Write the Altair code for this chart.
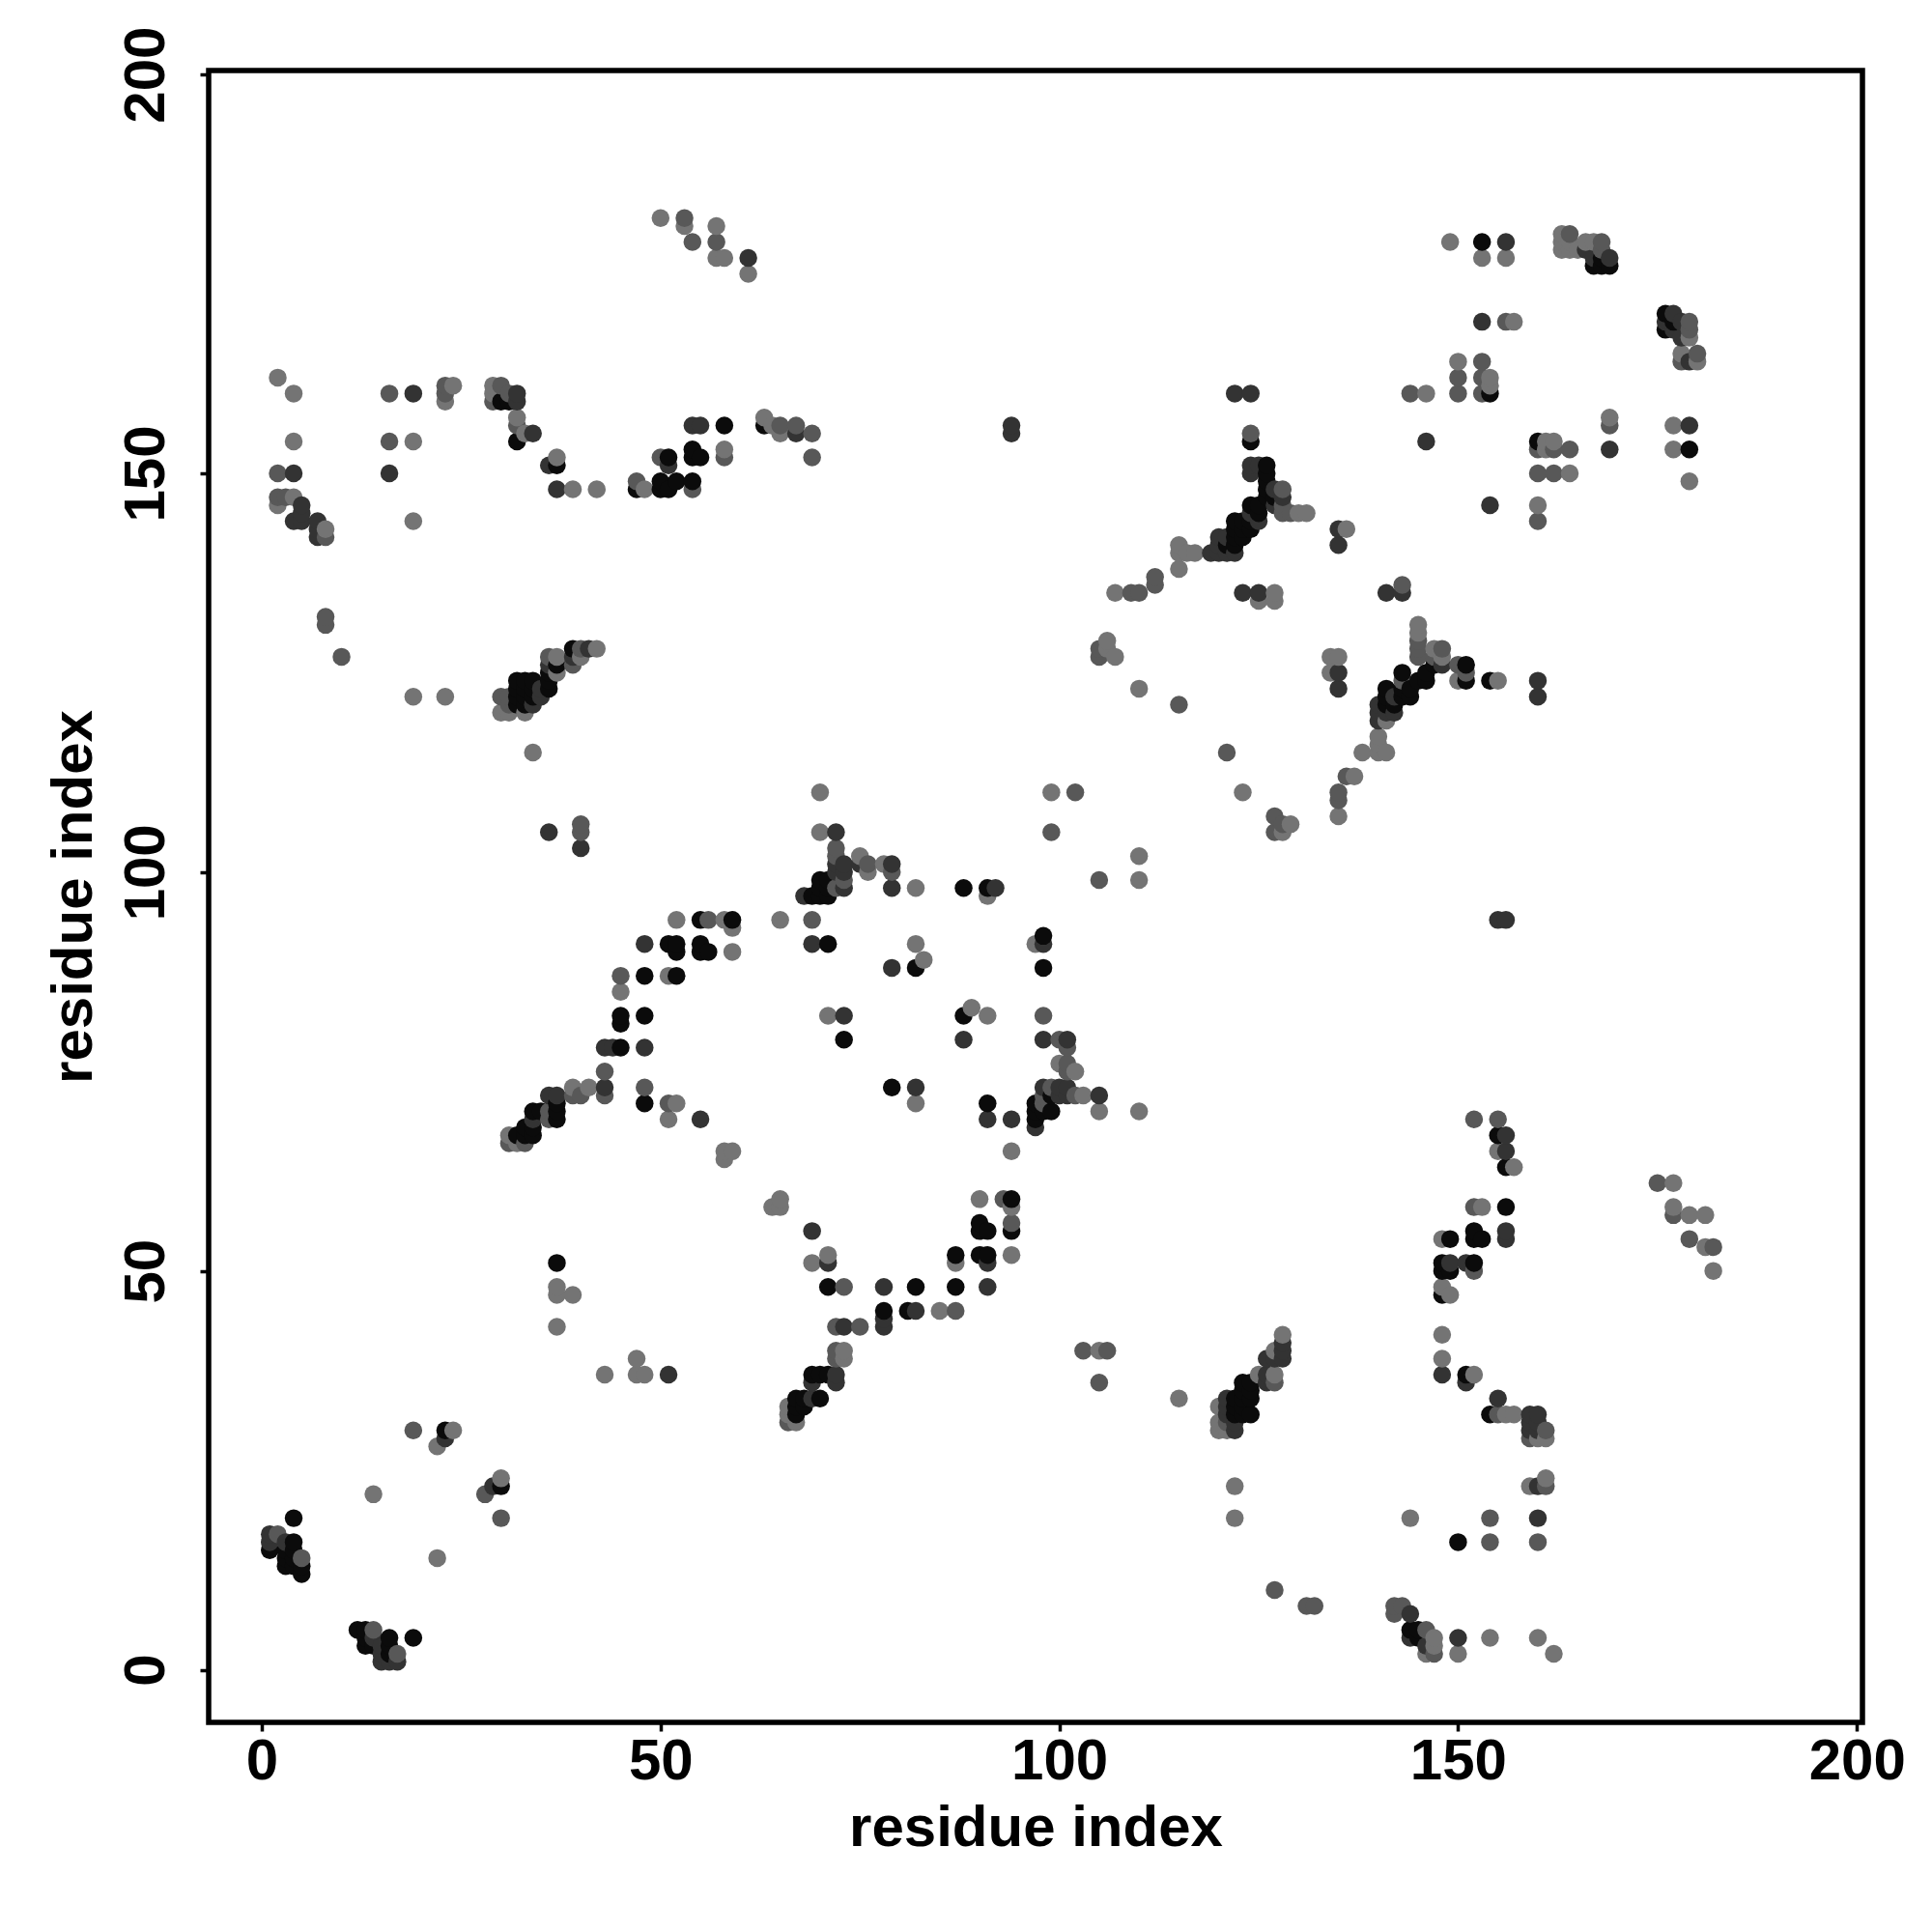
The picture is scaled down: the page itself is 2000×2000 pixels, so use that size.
import altair as alt
import pandas as pd

TICKS = [0, 50, 100, 150, 200]
GRAYS = {"k": "#0b0b0b", "d": "#333333", "m": "#585858", "l": "#747474"}

# contacts (residue i, residue j) grouped by grey level
black = [(23,30),(30,23),(4,19),(1,15),(4,16),(3,15),(4,15),(3,14),(4,14),(3,13),(4,13),(5,13),(5,12),(12,5),(13,5),(13,4),(13,3),
 (16,4),(19,4),(14,3),(16,3),(16,2),(150,16),(144,5),(145,5),(145,4),(155,67),(156,63),(156,58),(152,55),(152,54),(153,54),(149,54),
 (148,51),(148,50),(149,50),(152,51),(148,47),(151,37),(154,32),(123,36),(124,36),(123,35),(124,35),(122,34),(123,34),(124,34),(122,33),(123,33),
 (122,32),(123,32),(124,32),(94,59),(94,55),(90,56),(90,55),(91,55),(87,52),(90,52),(91,52),(87,48),(82,48),(78,45),(81,45),(71,48),
 (69,37),(70,37),(71,37),(67,34),(68,34),(70,34),(68,33),(67,33),(67,32),(37,51),(48,71),(45,78),(45,82),(45,81),(48,82),(48,87),(52,87),
 (51,91),(52,91),(52,90),(55,91),(55,90),(56,90),(55,94),(59,94),(71,91),(73,79),(37,71),(37,70),(37,69),(34,70),(35,70),(33,68),(34,68),(34,67),(32,67),(33,67),
 (69,97),(70,97),(71,97),(70,99),(71,99),(70,98),(71,98),(88,98),(91,98),(82,88),(98,92),(98,88),(88,82),(79,73),(99,72),(97,71),(99,70),(98,70),(97,70),(97,69),(91,71),
 (141,121),(142,121),(141,123),(141,122),(143,125),(143,123),(144,122),(145,124),(146,124),(146,125),(147,126),(151,126),(151,124),(154,124),(144,123),(143,122),
 (153,179),(154,160),(160,154),(179,153),(168,177),(167,176),(168,176),(169,176),(176,170),(177,169),(176,168),
 (30,159),(31,159),(32,154),(37,151),(47,148),(39,128),(37,126),(36,125),(36,124),(36,123),(32,124),(34,124),(33,124),(32,123),(34,123),(33,123),(34,122),(33,122),(32,122),(32,121),(33,121),
 (58,156),(63,156),(51,152),(54,153),(54,152),(55,152),(50,149),(47,148),(50,148),(51,148),(54,149),(52,149),
 (124,154),(126,151),(126,150),(124,146),(122,144),(123,144),(125,145),(125,146),(122,143),(124,143),(122,142),(123,142),(122,141),(121,141),(123,143),(124,144),(126,147),(126,148),(126,149),(127,147)]
dark = [(23,29),(29,23),(3,16),(1,17),(1,16),(15,3),(14,4),(15,1),(16,1),(17,1),(15,2),(160,19),(160,23),(144,7),(144,4),(146,3),(150,4),
 (156,67),(156,65),(156,55),(156,54),(149,51),(151,51),(148,37),(151,36),(155,34),(159,32),(160,32),(159,31),(160,31),(159,30),(160,30),
 (128,41),(128,40),(128,39),(127,39),(126,39),(126,37),(126,36),(121,34),(121,33),(121,32),(122,31),(122,30),(69,55),(71,51),(91,51),(91,48),(78,48),(78,44),(78,43),(82,45),(73,43),
 (72,37),(69,36),(72,36),(69,34),(48,91),(69,91),(73,82),(43,73),(48,78),(43,78),(44,78),(55,69),(36,72),(37,72),(34,69),(68,97),
 (72,105),(72,101),(73,101),(73,100),(72,100),(73,98),(75,101),(79,101),(79,98),(92,98),(79,88),(98,91),(88,79),(98,79),(101,79),(82,73),(98,73),(100,73),(101,73),(100,72),(101,72),(105,72),(97,68),(91,69),(94,69),
 (123,135),(125,135),(141,135),(143,135),(135,125),(135,123),(140,121),(140,120),(140,119),(142,120),(141,120),(142,122),(148,126),(160,124),(160,122),(135,143),(135,141),
 (156,179),(153,169),(146,154),(154,146),(169,153),(179,156),(166,178),(167,177),(169,177),(177,170),(176,169),(178,169),(177,168),(178,167),(179,164),
 (19,160),(32,160),(32,159),(34,155),(4,150),(16,150),(36,151),(37,148),(5,146),(4,144),(5,145),(5,144),(7,144),(7,143),(7,142),(41,128),(39,127),(36,126),(35,123),(35,122),(34,121),
 (54,156),(55,156),(61,177),(67,155),(51,151),(94,156),(94,155),(155,94),(156,94),(36,105),(40,103),(122,160),(124,160),
 (124,151),(125,151),(124,150),(127,148),(128,147),(124,145),(125,144),(121,142),(120,142),(120,141),(119,140),(120,140),(121,140),(122,140)]
mid = [(19,30),(28,22),(30,19),(2,17),(5,14),(14,5),(14,4),(17,2),(154,19),(154,16),(160,16),(161,23),(127,10),(131,8),(132,8),(142,8),(143,8),(142,7),(146,5),(147,2),
 (152,69),(155,69),(152,58),(152,50),(155,32),(161,30),(159,29),(127,36),(121,31),(93,59),(94,56),(87,45),(73,48),(72,43),(75,43),(72,40),(72,39),(66,31),(103,40),(106,40),(105,36),
 (69,94),(56,94),(48,73),(51,71),(43,72),(43,75),(45,87),(36,69),(36,70),(31,66),(33,66),(39,72),(40,72),
 (99,105),(72,103),(72,102),(73,99),(72,98),(76,101),(79,100),(105,99),(98,82),(101,78),(101,76),(101,75),(99,73),(98,72),(102,72),(98,71),(100,79),
 (109,135),(110,135),(112,136),(112,137),(143,136),(105,128),(105,127),(115,121),(121,115),(102,110),(127,107),(127,105),(128,106),(135,109),(135,110),(136,112),
 (143,124),(145,129),(145,128),(145,127),(148,128),(147,127),(150,126),(151,125),(156,169),(150,162),(150,160),(153,164),(153,162),(153,160),(144,160),(160,153),(162,153),(164,153),(160,150),(162,150),(160,144),(169,156),
 (164,180),(168,179),(168,178),(179,169),(179,168),(178,164),(180,165),(175,61),(179,54),(182,53),(177,57),
 (16,160),(23,160),(23,161),(30,161),(29,159),(31,160),(32,156),(16,154),(2,150),(2,147),(3,147),(8,142),(8,132),(8,131),(10,127),(47,149),(50,152),(40,128),(39,126),(36,127),(30,122),(31,122),(31,121),
 (53,182),(54,179),(57,179),(65,156),(67,156),(69,155),(69,152),(58,152),(54,148),(40,106),(40,105),(124,155),(128,148),(128,146),(129,145),(128,145)]
light = [(43,37),(37,43),(24,30),(22,28),(14,22),(30,24),(22,14),(122,23),(122,19),(144,19),(159,23),(161,24),(147,4),(147,3),(146,2),(150,2),(154,4),(160,4),(162,2),
 (155,65),(157,63),(153,58),(148,54),(148,48),(149,47),(148,42),(148,39),(152,37),(156,32),(157,32),(160,29),(161,29),
 (128,42),(127,40),(127,37),(125,37),(120,33),(120,31),(120,30),(121,30),(115,34),(94,65),(90,59),(94,58),(94,52),(87,51),(85,45),(71,52),(69,51),(73,40),(73,39),(66,33),(66,32),(67,31),(65,59),(64,58),(65,58),(105,40),
 (58,65),(59,65),(58,64),(51,69),(52,71),(41,73),(39,73),(45,85),(51,87),(59,90),(52,94),(58,94),(59,93),(65,94),(71,82),(31,67),(32,66),
 (70,110),(99,110),(102,110),(70,105),(75,102),(76,100),(78,101),(82,98),(91,97),(110,102),(110,99),(82,91),(83,89),(97,91),(89,83),(91,82),(100,76),(102,75),(103,72),(105,70),(110,70),(82,71),(94,65),
 (107,135),(125,134),(127,135),(127,134),(106,129),(106,128),(107,127),(110,123),(123,110),(128,105),(129,106),(135,107),(137,112),(138,115),(140,115),(141,115),(140,116),(140,117),
 (134,127),(135,127),(134,125),(141,119),(145,131),(145,130),(147,128),(148,127),(150,124),(155,124),(136,143),
 (149,179),(153,177),(156,177),(157,169),(150,164),(154,162),(154,161),(146,160),(161,154),(162,154),(161,153),(164,150),(160,146),(169,157),(177,156),(177,153),(179,149),
 (163,180),(163,179),(164,179),(163,178),(164,178),(165,178),(166,179),(167,179),(179,167),(178,165),(180,164),
 (177,61),(177,58),(179,57),(181,57),(181,53),(182,50),
 (2,162),(4,160),(23,159),(24,161),(29,161),(29,160),(32,157),(33,155),(4,154),(19,154),(37,152),(39,148),(42,148),(48,148),(4,147),(2,146),(8,143),(19,144),(19,122),(23,122),(42,128),(40,127),(37,127),(37,125),(30,120),(31,120),(33,120),(34,115),
 (50,182),(53,181),(57,181),(57,177),(58,177),(61,175),(63,157),(64,156),(65,155),(50,152),(58,153),(47,39),(37,48),(37,47),(39,47),(47,37),(48,37),(131,145),(130,145),(115,141),(115,140),(115,138),(117,140),(116,140)]
dark_extra = [(51,37),(127,146),(128,147)]

seen = {}
for level, pts in (("k", black), ("d", dark + dark_extra), ("m", mid), ("l", light)):
    for p in pts:
        seen.setdefault(p, level)

df = pd.DataFrame([{"i": p[0], "j": p[1], "level": g} for p, g in seen.items()])
df = df.sort_values(["i", "j"]).reset_index(drop=True)
df["grey"] = df["level"].map(GRAYS)

FONT = "Liberation Sans"

def axis(**kw):
    return alt.Axis(values=TICKS, grid=False, domain=False, ticks=True, tickSize=9, tickWidth=3.5, tickColor="black",
                    labelFont=FONT, labelFontSize=60, labelFontWeight="bold", labelColor="black", labelOverlap=False,
                    labelFlush=False, titleFont=FONT, titleFontSize=60, titleFontWeight="bold", titleColor="black", **kw)

chart = (
    alt.Chart(df)
    .mark_circle(size=342, opacity=1)
    .encode(
        x=alt.X("i:Q", title="residue index", scale=alt.Scale(domain=[-6.66, 200.7], nice=False, zero=False),
                axis=axis(labelPadding=2, titlePadding=10)),
        y=alt.Y("j:Q", title="residue index", scale=alt.Scale(domain=[-6.6, 200.5], nice=False, zero=False),
                axis=axis(labelAngle=270, labelAlign="center", labelBaseline="bottom", labelPadding=25, titlePadding=14)),
        color=alt.Color("grey:N", scale=None),
        order=alt.Order("idx:Q"),
    )
    .transform_window(idx="row_number()")
    .properties(width=1712, height=1710, autosize="none", background="white",
                padding={"left": 208, "top": 65, "right": 60, "bottom": 205})
    .configure_view(stroke="black", strokeWidth=5.5, fill="white")
)

chart.save("out.html", embed_options={"renderer": "svg", "actions": False})
